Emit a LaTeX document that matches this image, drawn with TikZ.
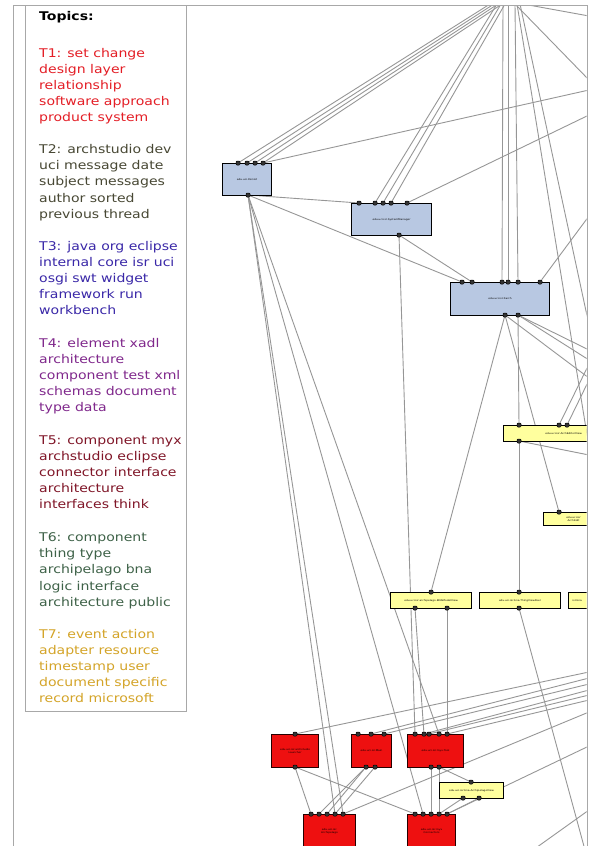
\documentclass[tikz,border=0pt]{standalone}
\usepackage{fontspec}
\setmainfont{DejaVu Sans}[FakeStretch = 1.17]

\definecolor{frameline}{RGB}{168,168,168}
\definecolor{wireline}{RGB}{150,150,150}
\definecolor{compblue}{RGB}{184,200,226}
\definecolor{compyellow}{RGB}{255,255,158}
\definecolor{compred}{RGB}{238,16,16}
\definecolor{topicA}{RGB}{228,30,38}
\definecolor{topicB}{RGB}{72,72,52}
\definecolor{topicC}{RGB}{58,40,168}
\definecolor{topicD}{RGB}{128,40,140}
\definecolor{topicE}{RGB}{128,22,40}
\definecolor{topicF}{RGB}{62,98,72}
\definecolor{topicG}{RGB}{212,164,40}

\pgfdeclarelayer{wires}
\pgfsetlayers{wires,main}

\begin{document}
\begin{tikzpicture}[x = 1pt, y = -1pt,
	wire/.style = {wireline, line width = 0.9pt},
	box/.style = {draw = black, line width = 1.1pt, anchor = north west, inner sep = 0pt, align = center, font = \fontsize{2.4}{2.9}\selectfont},
	bluebox/.style = {box, fill = compblue},
	yellowbox/.style = {box, fill = compyellow},
	redbox/.style = {box, fill = compred, draw = black!85!red},
	port/.style = {draw = black, fill = black!80, line width = 0.5pt, minimum size = 4pt, inner sep = 0pt, rounded corners = 0.9pt},
	topic/.style = {anchor = north west, align = left, inner sep = 0pt, font = \fontsize{12}{16.1}\selectfont}]

	\useasboundingbox (0, 0) rectangle (589, 846);

	% Topic list

	\draw [frameline, fill = white] (25, 5) rectangle (186, 711);

	\node [topic] (heading) at (39, 11.6) {\bfseries Topics:};
	\node [topic, text = topicA] (topicOne) at (39, 48.2) {T1: set change\\design layer\\relationship\\software approach\\product system};
	\node [topic, text = topicB] (topicTwo) at (39, 144.4) {T2: archstudio dev\\uci message date\\subject messages\\author sorted\\previous thread};
	\node [topic, text = topicC] (topicThree) at (39, 240.9) {T3: java org eclipse\\internal core isr uci\\osgi swt widget\\framework run\\workbench};
	\node [topic, text = topicD] (topicFour) at (39, 337.9) {T4: element xadl\\architecture\\component test xml\\schemas document\\type data};
	\node [topic, text = topicE] (topicFive) at (39, 435.3) {T5: component myx\\archstudio eclipse\\connector interface\\architecture\\interfaces think};
	\node [topic, text = topicF] (topicSix) at (39, 532.6) {T6: component\\thing type\\archipelago bna\\logic interface\\architecture public};
	\node [topic, text = topicG] (topicSeven) at (39, 628.9) {T7: event action\\adapter resource\\timestamp user\\document specific\\record microsoft};

	% Components

	\begin{scope}
		\clip (187, 5.5) rectangle (586.5, 846);

		\node [bluebox, minimum width = 49, minimum height = 32] (bA) at (222, 163) {edu.uci.Persist};
		\node [bluebox, minimum width = 80, minimum height = 32] (bB) at (351, 203) {edu.uci.isr.SystemManager};
		\node [bluebox, minimum width = 99, minimum height = 33] (bC) at (450, 282) {edu.uci.isr.Xarch};

		\node [yellowbox, minimum width = 120, minimum height = 16] (yA) at (503, 425) {edu.uci.isr.ArchEditorView};
		\node [yellowbox, minimum width = 60, minimum height = 13] (yB) at (543, 512) {edu.uci.isr\\ArchEdit};
		\node [yellowbox, minimum width = 81, minimum height = 16] (yC) at (390, 592) {edu.uci.isr.archipelago.BNAModelView};
		\node [yellowbox, minimum width = 81, minimum height = 16] (yD) at (479, 592) {edu.uci.isr.bna.ThingViewPeer};
		\node [yellowbox, minimum width = 64, minimum height = 16, text width = 56, align = left] (yE) at (568, 592) {isr.bna};
		\node [yellowbox, minimum width = 64, minimum height = 16] (yF) at (439, 782) {edu.uci.isr.bna.ArchipelagoView};

		\node [redbox, minimum width = 47, minimum height = 33] (rA) at (271, 734) {edu.uci.isr.archstudio\\Launcher};
		\node [redbox, minimum width = 40, minimum height = 33] (rB) at (351, 734) {edu.uci.isr.Main};
		\node [redbox, minimum width = 56, minimum height = 33] (rC) at (407, 734) {edu.uci.isr.myx.Tool};
		\node [redbox, minimum width = 52, minimum height = 33] (rD) at (303, 814) {edu.uci.isr.\\Archipelago};
		\node [redbox, minimum width = 48, minimum height = 33] (rE) at (407, 814) {edu.uci.isr.myx\\Connectors};

		% Ports

		\foreach \n/\x in {1/238, 2/247, 3/255, 4/263}
			\node [port] (bA\n) at (\x, 163) {};
		\node [port] (bAo) at (248, 195) {};
		\foreach \n/\x in {1/359, 2/375, 3/383, 4/391, 5/407}
			\node [port] (bB\n) at (\x, 203) {};
		\node [port] (bBo) at (399, 235) {};
		\foreach \n/\x in {1/462, 2/472, 3/502, 4/508, 5/518, 6/540}
			\node [port] (bC\n) at (\x, 282) {};
		\node [port] (bCo) at (505, 315) {};
		\node [port] (bCp) at (518, 315) {};

		\foreach \n/\x in {1/519, 2/559, 3/567}
			\node [port] (yA\n) at (\x, 425) {};
		\node [port] (yAo) at (519, 441) {};
		\node [port] (yB1) at (559, 512) {};
		\node [port] (yC1) at (431, 592) {};
		\node [port] (yCo) at (415, 608) {};
		\node [port] (yCp) at (447, 608) {};
		\node [port] (yD1) at (519, 592) {};
		\node [port] (yDo) at (519, 608) {};
		\node [port] (yF1) at (471, 782) {};
		\node [port] (yFo) at (463, 798) {};
		\node [port] (yFp) at (479, 798) {};

		\node [port] (rA1) at (295, 734) {};
		\node [port] (rAo) at (295, 767) {};
		\foreach \n/\x in {1/358, 2/371, 3/384}
			\node [port] (rB\n) at (\x, 734) {};
		\node [port] (rBo) at (366, 767) {};
		\node [port] (rBp) at (375, 767) {};
		\foreach \n/\x in {1/415, 2/424, 3/429, 4/439, 5/447}
			\node [port] (rC\n) at (\x, 734) {};
		\node [port] (rCo) at (431, 767) {};
		\node [port] (rCp) at (439, 767) {};
		\foreach \n/\x in {1/311, 2/319, 3/327, 4/335, 5/343}
			\node [port] (rD\n) at (\x, 814) {};
		\foreach \n/\x in {1/415, 2/423, 3/431, 4/439, 5/447}
			\node [port] (rE\n) at (\x, 814) {};
	\end{scope}

	% Ends outside the panel

	\foreach \n/\x in {1/490, 2/494, 3/498, 4/502, 5/497, 6/501, 7/505, 8/503, 9/508, 10/515, 11/517, 12/520, 13/523}
		\coordinate (top\n) at (\x, 4);
	\foreach \n/\y in {1/16, 2/80, 3/90, 4/115, 5/216, 6/325, 7/447, 8/350, 9/360, 10/378, 11/364, 12/380, 13/455, 14/672, 15/678, 16/684, 17/690, 18/695, 19/700, 20/712, 21/746, 22/810}
		\coordinate (edge\n) at (589, \y);
	\coordinate (low1) at (585, 850);
	\coordinate (low2) at (533, 850);

	% Connectors

	\begin{pgfonlayer}{wires}
		\begin{scope}
			\clip (187, 5.5) rectangle (586.5, 846);

			\foreach \a/\b in {bA1/top1, bA2/top2, bA3/top3, bA4/top4, bB2/top5, bB3/top6, bB4/top7, bC3/top8, bC4/top9, bC5/top10}
				\draw [wire] (\a) -- (\b);
			\foreach \a/\b in {top13/edge1, top10/edge2, top12/edge6, top11/edge7}
				\draw [wire] (\a) -- (\b);
			\foreach \a/\b in {bA4/edge3, bB5/edge4, bC6/edge5, bCp/edge8, bCp/edge9, bCo/edge10, yA2/edge11, yA3/edge12, yAo/edge13}
				\draw [wire] (\a) -- (\b);
			\foreach \a/\b in {rA1/edge14, rB2/edge15, rB3/edge16, rC2/edge17, rC3/edge18, rC5/edge19, rD5/edge20, rE5/edge21}
				\draw [wire] (\a) -- (\b);
			\draw [wire] (yDo) -- (low1);
			\draw [wire] (edge22) -- (low2);

			\draw [wire] (bAo) -- (bB1);
			\draw [wire] (bAo) -- (bC1);
			\draw [wire] (bBo) -- (bC2);
			\draw [wire] (bBo) -- (rC1);
			\foreach \t in {rD4, rD5, rE2, rC4}
				\draw [wire] (bAo) -- (\t);

			\draw [wire] (bCo) -- (yC1);
			\draw [wire] (bCo) -- (yB1);
			\draw [wire] (bCp) -- (yA1);
			\draw [wire] (yAo) -- (yD1);
			\draw [wire] (yCo) -- (rC2);
			\draw [wire] (yCp) -- (rC5);

			\draw [wire] (rAo) -- (rD1);
			\draw [wire] (rAo) -- (rE1);
			\draw [wire] (rBo) -- (rD2);
			\draw [wire] (rBo) -- (rD3);
			\draw [wire] (rBp) -- (rD4);
			\draw [wire] (rCo) -- (rE3);
			\draw [wire] (rCp) -- (rE4);
			\draw [wire] (rCp) -- (yF1);
			\draw [wire] (yFo) -- (rE4);
			\draw [wire] (yFp) -- (rE5);
		\end{scope}
	\end{pgfonlayer}

	% Page frame

	\draw [frameline] (13, 846) -- (13, 5) -- (587, 5) -- (587, 846);

\end{tikzpicture}
\end{document}
